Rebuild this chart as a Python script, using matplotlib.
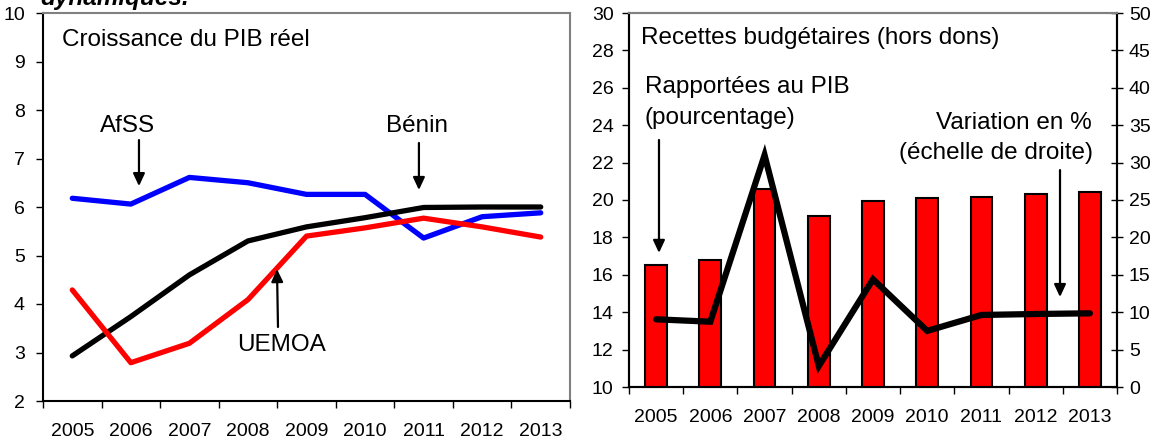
import matplotlib
matplotlib.use("Agg")
import matplotlib.pyplot as plt
import numpy as np

plt.rcParams['font.family'] = ['Liberation Sans', 'DejaVu Sans']

years = ["2005", "2006", "2007", "2008", "2009", "2010", "2011", "2012", "2013"]

# Left panel: real GDP growth
afss = [6.18, 6.06, 6.61, 6.50, 6.26, 6.26, 5.36, 5.80, 5.88]
benin = [2.93, 3.74, 4.60, 5.30, 5.59, 5.78, 5.99, 6.00, 6.00]
uemoa = [4.29, 2.79, 3.19, 4.09, 5.40, 5.57, 5.77, 5.59, 5.38]

# Right panel: budget revenue
rev_pib = [16.5, 16.8, 20.57, 19.14, 19.96, 20.09, 20.18, 20.32, 20.41]
rev_var = [9.05, 8.73, 31.0, 2.8, 14.4, 7.5, 9.63, 9.76, 9.85]

left_yticks = [2, 3, 4, 5, 6, 7, 8, 9, 10]
right_yticks = [10, 12, 14, 16, 18, 20, 22, 24, 26, 28, 30]
right2_yticks = [0, 5, 10, 15, 20, 25, 30, 35, 40, 45, 50]

W, H = 1157, 438
fig = plt.figure(figsize=(W / 100, H / 100), dpi=100)

def frac(l, r, t, b):
    return [l / W, 1 - b / H, (r - l) / W, (b - t) / H]

TICK_FS = 14
TXT_FS = 17.5
GRAY = '#808080'

x = np.arange(len(years))

# ---------------- Left panel ----------------
ax1 = fig.add_axes(frac(43, 570, 13, 401))
ax1.plot(x, afss, color='#0000FF', lw=3.8, solid_capstyle='round', solid_joinstyle='round')
ax1.plot(x, benin, color='black', lw=3.8, solid_capstyle='round', solid_joinstyle='round')
ax1.plot(x, uemoa, color='#FF0000', lw=3.8, solid_capstyle='round', solid_joinstyle='round')
ax1.set_xlim(-0.5, len(years) - 0.5)
ax1.set_ylim(2, 10)
ax1.set_yticks(left_yticks)
ax1.set_yticklabels([str(v) for v in left_yticks], fontsize=TICK_FS)
ax1.set_xticks(np.arange(-0.5, len(years), 1.0))
ax1.set_xticklabels([])
ax1.set_xticks(x, minor=True)
ax1.set_xticklabels(years, minor=True, fontsize=TICK_FS)
ax1.tick_params(axis='x', which='major', direction='out', length=5, width=1, color='black')
ax1.tick_params(axis='x', which='minor', length=0, pad=16)
ax1.tick_params(axis='y', direction='out', length=5, width=1, pad=8)
for s in ['top', 'right']:
    ax1.spines[s].set_color(GRAY)
    ax1.spines[s].set_linewidth(1.5)
for s in ['left', 'bottom']:
    ax1.spines[s].set_color('black')
    ax1.spines[s].set_linewidth(1.5)

ax1.text(-0.176, 9.44, "Croissance du PIB réel", fontsize=TXT_FS, ha='left', va='center')
arrow_kw = dict(arrowstyle='-|>,head_length=0.75,head_width=0.35', color='black', lw=1.6,
                shrinkA=0, shrinkB=0)
ax1.text(0.943, 7.67, "AfSS", fontsize=TXT_FS, ha='center', va='center')
ax1.annotate("", xy=(1.139, 6.43), xytext=(1.139, 7.38), arrowprops=arrow_kw)
ax1.text(5.887, 7.67, "Bénin", fontsize=TXT_FS, ha='center', va='center')
ax1.annotate("", xy=(5.92, 6.35), xytext=(5.92, 7.32), arrowprops=arrow_kw)
ax1.text(3.58, 3.155, "UEMOA", fontsize=TXT_FS, ha='center', va='center')
ax1.annotate("", xy=(3.496, 4.72), xytext=(3.513, 3.526), arrowprops=arrow_kw)

# ---------------- Right panel ----------------
ax2 = fig.add_axes(frac(629, 1117, 13, 387))
ax2.bar(x, rev_pib, width=0.4, bottom=0, color='#FF0000', edgecolor='black', linewidth=1.5, zorder=2)
ax2.set_xlim(-0.5, len(years) - 0.5)
ax2.set_ylim(10, 30)
ax2.set_yticks(right_yticks)
ax2.set_yticklabels([str(v) for v in right_yticks], fontsize=TICK_FS)
ax2.set_xticks(np.arange(-0.5, len(years), 1.0))
ax2.set_xticklabels([])
ax2.set_xticks(x, minor=True)
ax2.set_xticklabels(years, minor=True, fontsize=TICK_FS)
ax2.tick_params(axis='x', which='major', direction='out', length=5, width=1, color='black')
ax2.tick_params(axis='x', which='minor', length=0, pad=16)
ax2.tick_params(axis='y', direction='out', length=5, width=1, pad=6)
ax2.spines['top'].set_color(GRAY)
ax2.spines['top'].set_linewidth(1.5)
for s in ['left', 'bottom', 'right']:
    ax2.spines[s].set_color('black')
    ax2.spines[s].set_linewidth(1.5)

ax3 = ax2.twinx()
ax3.plot(x, rev_var, color='black', lw=4.5, solid_joinstyle='miter', solid_capstyle='round', zorder=3)
ax3.set_ylim(0, 50)
ax3.set_yticks(right2_yticks)
ax3.set_yticklabels([str(v) for v in right2_yticks], fontsize=TICK_FS)
ax3.tick_params(axis='y', direction='inout', length=9, width=1, pad=4)
ax3.spines['top'].set_color(GRAY)
ax3.spines['top'].set_linewidth(1.5)
for s in ['left', 'bottom', 'right']:
    ax3.spines[s].set_color('black')
    ax3.spines[s].set_linewidth(1.5)

ax2.text(-0.279, 28.66, "Recettes budgétaires (hors dons)", fontsize=TXT_FS, ha='left', va='center', zorder=5)
ax2.text(-0.205, 26.04, "Rapportées au PIB", fontsize=TXT_FS, ha='left', va='center', zorder=5)
ax2.text(-0.205, 24.39, "(pourcentage)", fontsize=TXT_FS, ha='left', va='center', zorder=5)
ax2.text(8.04, 24.12, "Variation en %", fontsize=TXT_FS, ha='right', va='center', zorder=5)
ax2.text(8.06, 22.51, "(échelle de droite)", fontsize=TXT_FS, ha='right', va='center', zorder=5)
ax2.annotate("", xy=(0.053, 17.17), xytext=(0.053, 23.21), arrowprops=arrow_kw, zorder=5)
ax2.annotate("", xy=(7.449, 14.81), xytext=(7.449, 21.6), arrowprops=arrow_kw, zorder=5)

# cut-off heading at the top (as in the source image)
fig.text(40 / W, 1 - 5 / H, "dynamiques.", fontsize=TXT_FS, fontweight='bold',
         fontstyle='italic', ha='left', va='baseline')

fig.savefig("out.png", dpi=100)
